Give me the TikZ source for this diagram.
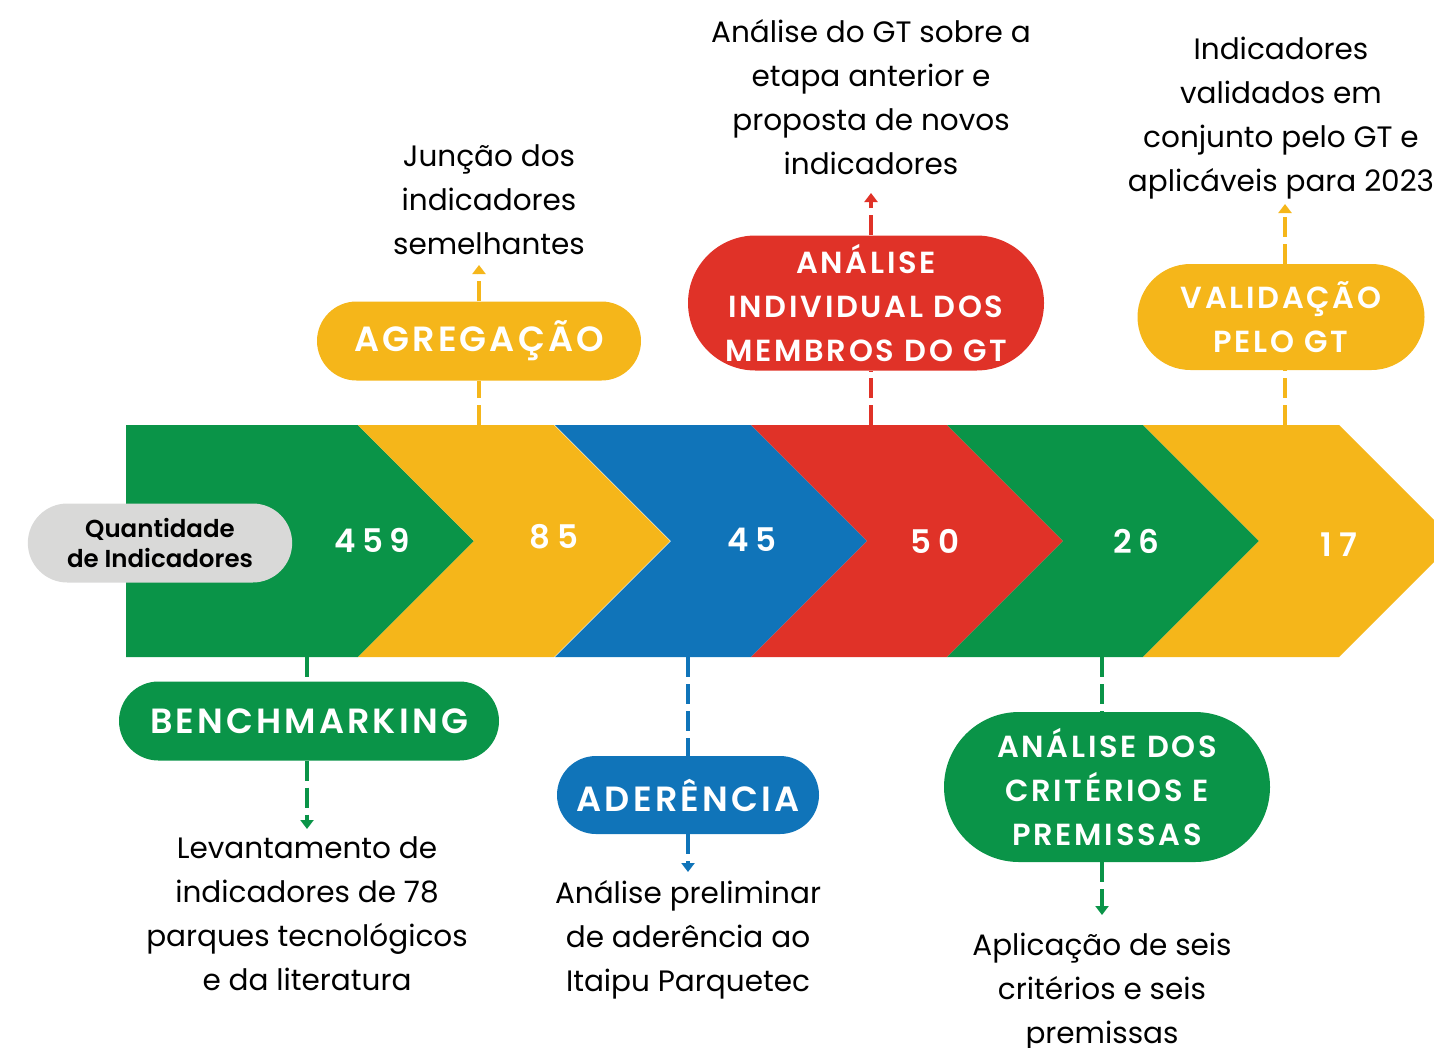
\documentclass[tikz,border=0pt]{standalone}
\usepackage{fontspec}
\setmainfont{Poppins}
\newfontfamily\tagfont[LetterSpace=9]{Poppins SemiBold}
\newfontfamily\numfont[LetterSpace=20]{Poppins SemiBold}
\newfontfamily\qtdfont{Poppins SemiBold}
\usetikzlibrary{arrows.meta,shapes.misc,positioning}

\begin{document}
\begin{tikzpicture}[x=1pt,y=-1pt,>={Triangle[length=9pt,width=13pt]}]

\definecolor{ipgreen}{RGB}{10,148,72}
\definecolor{ipyellow}{RGB}{245,182,26}
\definecolor{ipblue}{RGB}{16,116,185}
\definecolor{ipred}{RGB}{224,50,40}
\definecolor{ipgrey}{RGB}{217,217,216}

\tikzset{
    tag/.style={
        rounded rectangle, fill=#1, inner sep=0pt,
        text=white, align=center,
        font=\tagfont\fontsize{35}{44}\selectfont
    },
    tag small/.style={
        tag=#1, font=\tagfont\fontsize{30.5}{44}\selectfont
    },
    count/.style={
        text=white, font=\numfont\fontsize{32.5}{36}\selectfont
    },
    desc/.style={
        align=center, inner sep=0pt,
        font=\fontsize{29.5}{44}\selectfont
    },
    link/.style={
        draw=#1, line width=3.5pt, dash pattern=on 20pt off 7pt
    }
}

\useasboundingbox (0,0) rectangle (1434,1047);

% Chevron band
\fill[ipgreen] (126,425) -- (358,425) -- (474,541) -- (358,657) -- (126,657) -- cycle;
\foreach \x/\c in {358/ipyellow,555/ipblue,751/ipred,947/ipgreen,1143/ipyellow}
    \fill[\c] (\x,425) -- ++(196,0) -- ++(116,116) -- ++(-116,116) -- ++(-196,0) -- ++(116,-116) -- cycle;

% Counts
\node[count] (n459) at (372,540) {459};
\node[count] (n85)  at (554,537) {85};
\node[count] (n45)  at (752,540) {45};
\node[count] (n50)  at (935,541) {50};
\node[count] (n26)  at (1136,541) {26};
\node[count] (n17)  at (1339,545) {17};

\node[rounded rectangle, fill=ipgrey, minimum width=271pt, minimum height=79pt,
      align=center, font=\qtdfont\fontsize{24.5}{30}\selectfont] (qtd) at (160,543)
      {Quantidade\\de Indicadores};

% Band anchors
\coordinate (agrBase) at (479,425);
\coordinate (anaBase) at (871,425);
\coordinate (valBase) at (1285,425);
\coordinate (bmkBase) at (307,657);
\coordinate (adeBase) at (688,657);
\coordinate (criBase) at (1102,657);

% Stages above
\node[tag=ipyellow, minimum width=324pt, minimum height=79pt] (agr) at (479,341) {AGREGAÇÃO};
\node[tag small=ipred, minimum width=356pt, minimum height=135pt] (ana) at (866,303)
    {ANÁLISE\\INDIVIDUAL DOS\\MEMBROS DO GT};
\node[tag small=ipyellow, minimum width=287pt, minimum height=106pt] (val) at (1281,317)
    {VALIDAÇÃO\\PELO GT};

% Stages below
\node[tag=ipgreen, minimum width=380pt, minimum height=79pt] (bmk) at (309,721) {BENCHMARKING};
\node[tag=ipblue, minimum width=262pt, minimum height=78pt] (ade) at (688,795) {ADERÊNCIA};
\node[tag small=ipgreen, minimum width=326pt, minimum height=150pt] (cri) at (1107,787)
    {ANÁLISE DOS\\CRITÉRIOS E\\PREMISSAS};

% Arrow tips
\coordinate (agrTip) at (479,265);
\coordinate (anaTip) at (871,193);
\coordinate (valTip) at (1285,204);
\coordinate (bmkTip) at (307,829);
\coordinate (adeTip) at (688,872);
\coordinate (criTip) at (1102,915);

% Descriptions
\node[desc] (agrDesc) at (489,200) {Junção dos\\indicadores\\semelhantes};
\node[desc] (anaDesc) at (871,97) {Análise do GT sobre a\\etapa anterior e\\proposta de novos\\indicadores};
\node[desc] (valDesc) at (1281,118) {Indicadores\\validados em\\conjunto pelo GT e\\aplicáveis para 2023};
\node[desc] (bmkDesc) at (307,914) {Levantamento de\\indicadores de 78\\parques tecnológicos\\e da literatura};
\node[desc] (adeDesc) at (688,940) {Análise preliminar\\de aderência ao\\Itaipu Parquetec};
\node[desc] (criDesc) at (1102,992) {Aplicação de seis\\critérios e seis\\premissas};

% Connectors
\draw[link=ipyellow] (agrBase) -- (agrBase |- agr.south);
\draw[link=ipyellow, ->] (agrBase |- agr.north) -- (agrTip);
\draw[link=ipred] (anaBase) -- (anaBase |- ana.south);
\draw[link=ipred, ->] (anaBase |- ana.north) -- (anaTip);
\draw[link=ipyellow] (valBase) -- (valBase |- val.south);
\draw[link=ipyellow, ->] (valBase |- val.north) -- (valTip);
\draw[link=ipgreen] (bmkBase) -- (bmkBase |- bmk.north);
\draw[link=ipgreen, ->] (bmkBase |- bmk.south) -- (bmkTip);
\draw[link=ipblue] (adeBase) -- (adeBase |- ade.north);
\draw[link=ipblue, ->] (adeBase |- ade.south) -- (adeTip);
\draw[link=ipgreen] (criBase) -- (criBase |- cri.north);
\draw[link=ipgreen, ->] (criBase |- cri.south) -- (criTip);

\end{tikzpicture}
\end{document}
